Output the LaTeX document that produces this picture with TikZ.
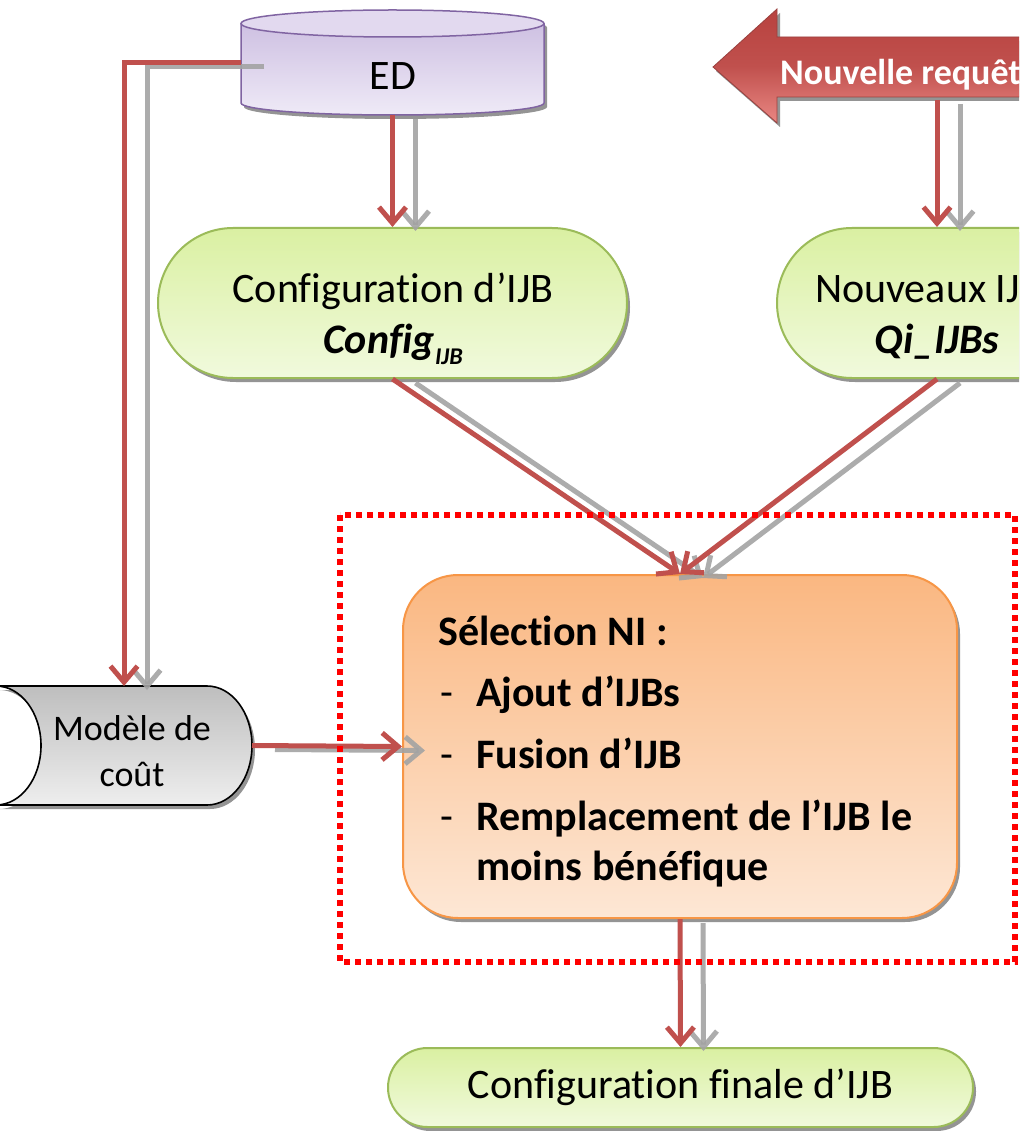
\documentclass[tikz,border=0pt]{standalone}
\usepackage{fontspec}
\setmainfont{Carlito}[RawFeature={-liga;-clig;-dlig}]
\usetikzlibrary{arrows.meta,shapes.misc,shadows}
\definecolor{cred}{HTML}{C0504D}
\definecolor{cgrey}{HTML}{A3A3A3}
\definecolor{edborder}{HTML}{8064A2}
\definecolor{edtop}{HTML}{C9BADF}
\definecolor{edbot}{HTML}{EFEAF7}
\definecolor{edcap}{HTML}{E2D9EF}
\definecolor{gborder}{HTML}{9BBB59}
\definecolor{gtop}{HTML}{DAF0A2}
\definecolor{gbot}{HTML}{F1FADD}
\definecolor{oborder}{HTML}{F79646}
\definecolor{otop}{HTML}{FAB781}
\definecolor{obot}{HTML}{FDE7D5}
\definecolor{mtop}{HTML}{BEBEBE}
\definecolor{mbot}{HTML}{EEEEEE}
\definecolor{dotred}{HTML}{FF0000}
\definecolor{arrtop}{HTML}{B8423F}
\definecolor{arrbot}{HTML}{E98783}
\newcommand{\fsL}{\fontsize{42}{50}\selectfont}
\newcommand{\fsM}{\fontsize{36}{44}\selectfont}
\tikzset{
  dshadow/.style={drop shadow={shadow xshift=3pt, shadow yshift=-4pt, fill=black!42, opacity=1}},
  redc/.style={draw=cred, line width=5pt, -{Straight Barb[length=16pt,width=27pt]}},
  greyc/.style={draw=cgrey, line width=5pt, opacity=0.9, -{Straight Barb[length=16pt,width=27pt]}},
  greenbox/.style={rounded rectangle, draw=gborder, line width=2pt, top color=gtop, bottom color=gbot, dshadow, inner sep=0pt},
  selbox/.style={rectangle, rounded corners=55pt, draw=oborder, line width=2pt, top color=otop, bottom color=obot, dshadow, inner sep=0pt},
  anchorbox/.style={inner sep=0pt, outer sep=0pt},
  txt/.style={anchor=base, inner sep=0pt, font=\fsL},
  seltxt/.style={anchor=base west, inner sep=0pt, font=\fsL\bfseries},
  grpbox/.style={draw=dotred, line width=6pt, dash pattern=on 6pt off 5pt},
  sh/.style={shift={(23,4)}}
}
\begin{document}
\begin{tikzpicture}[x=1pt,y=-1pt]
\useasboundingbox (0,0) rectangle (1019,1131);
\clip (0,0) rectangle (1019,1131);
\fill[white] (0,0) rectangle (1019,1131);

% ---- ED cylinder
\path[dshadow, top color=edtop, bottom color=edbot]
  (241,23.5) -- (241,103) arc[start angle=180, end angle=0, x radius=151.5, y radius=12]
  -- (544,23.5) arc[start angle=0, end angle=-180, x radius=151.5, y radius=13.5] -- cycle;
\draw[edborder, line width=1.5pt]
  (241,23.5) -- (241,103) arc[start angle=180, end angle=0, x radius=151.5, y radius=12]
  -- (544,23.5);
\draw[edborder, line width=1.5pt, fill=edcap] (392.5,23.5) ellipse[x radius=151.5, y radius=13.5];
\node[anchorbox, minimum width=303pt, minimum height=105pt] (ed) at (392.5,62.5) {};

% ---- Nouvelle requete arrow
\path[dshadow, top color=arrtop, bottom color=arrbot, middle color=cred]
  (713,67) -- (777,9) -- (777,37) -- (1100,37) -- (1100,97) -- (777,97) -- (777,123) -- cycle;
\draw[cred!80!black, line width=0.8pt]
  (713,67) -- (777,9) -- (777,37) -- (1100,37) -- (1100,97) -- (777,97) -- (777,123) -- cycle;
\coordinate (nrq) at (937,100);

% ---- green nodes
\node[greenbox, minimum width=469pt, minimum height=150pt] (cfg) at (392.5,303) {};
\node[greenbox, minimum width=320pt, minimum height=150pt] (nvx) at (937,303) {};
\node[greenbox, minimum width=585pt, minimum height=79pt, font=\fsL] (fin) at (680.5,1087.5) {Configuration finale d’IJB};

% ---- Modele de cout
\path[dshadow, top color=mtop, bottom color=mbot]
  (-4,686) -- (207,686) arc[start angle=-90, end angle=90, x radius=45, y radius=59.5]
  -- (-4,805) arc[start angle=90, end angle=-90, x radius=45, y radius=59.5] -- cycle;
\draw[black, line width=1.6pt]
  (-4,686) -- (207,686) arc[start angle=-90, end angle=90, x radius=45, y radius=59.5]
  -- (-4,805) arc[start angle=90, end angle=-90, x radius=45, y radius=59.5] -- cycle;
\node[anchorbox, minimum width=256pt, minimum height=119pt] (mod) at (124,745.5) {};

% ---- Selection box
\node[selbox, minimum width=554pt, minimum height=343pt] (sel) at (680,746.5) {};

% ---- connectors (grey shadow copies, then red)
\draw[greyc] ([sh]ed.west) -| ([sh]mod.north);
\draw[greyc] ([sh]ed.south) -- ([sh]cfg.north);
\draw[greyc] ([sh]nrq) -- ([sh]nvx.north);
\draw[greyc] ([sh]cfg.south) -- ([sh]sel.north);
\draw[greyc] ([sh]nvx.south) -- ([sh]sel.north);
\draw[greyc] ([sh]mod.east) -- ([sh]sel.west);
\draw[greyc] ([sh]sel.south) -- ([sh]fin.north);

\draw[redc] (ed.west) -| (mod.north);
\draw[redc] (ed.south) -- (cfg.north);
\draw[redc] (nrq) -- (nvx.north);
\draw[redc] (cfg.south) -- (sel.north);
\draw[redc] (nvx.south) -- (sel.north);
\draw[redc] (mod.east) -- (sel.west);
\draw[redc] (sel.south) -- (fin.north);

% ---- dotted group box
\draw[grpbox] (340,515) rectangle (1015,962);

% ---- texts
\node[txt] (edt) at (393,90) {ED};
\node[anchor=base west, inner sep=0pt, font=\fsM\bfseries, text=white] (nrqt) at (780,85) {Nouvelle requête};
\node[txt] (cfgt1) at (393,302) {Configuration d’IJB};
\node[txt, font=\fsL\bfseries\itshape] (cfgt2) at (393,353) {Config\raisebox{-11pt}{\fontsize{24}{24}\selectfont IJB}};
\node[txt] (nvxt1) at (937,302) {Nouveaux IJBs};
\node[txt, font=\fsL\bfseries\itshape] (nvxt2) at (937,353) {Qi\_IJBs};
\node[txt, font=\fsM] (modt1) at (132,740) {Modèle de};
\node[txt, font=\fsM] (modt2) at (132,786) {coût};
\node[seltxt] (s0) at (438,645) {Sélection NI :};
\node[seltxt] (s1) at (440,706) {\makebox[36pt][l]{\mdseries -}Ajout d’IJBs};
\node[seltxt] (s2) at (440,768) {\makebox[36pt][l]{\mdseries -}Fusion d’IJB};
\node[seltxt] (s3) at (440,830) {\makebox[36pt][l]{\mdseries -}Remplacement de l’IJB le};
\node[seltxt] (s4) at (476,880) {moins bénéfique};
\end{tikzpicture}
\end{document}
